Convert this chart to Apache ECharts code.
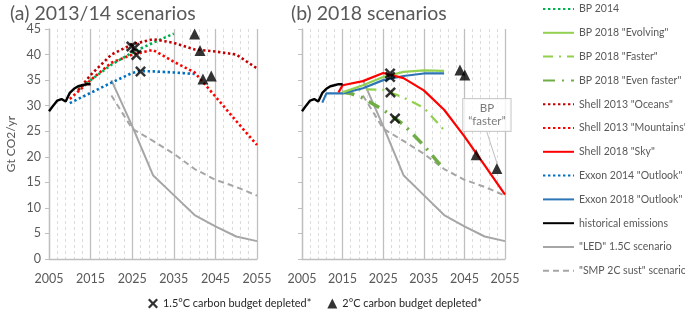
<!DOCTYPE html>
<html>
<head>
<meta charset="utf-8">
<script src="https://cdn.jsdelivr.net/npm/echarts@6/dist/echarts.min.js"></script>
<style>
  html, body { margin: 0; padding: 0; background: #fff; }
  #chart { width: 685px; height: 311px; }
</style>
</head>
<body>
<div id="chart"></div>
<script>
var baseYear = 2005;

// historical emissions (both panels)
var histYears = [2005, 2006, 2007, 2008, 2009, 2010, 2011, 2012, 2013, 2014, 2015];
var histVals = [28.9, 30.0, 31.0, 31.3, 30.8, 32.5, 33.3, 33.8, 34.0, 34.2, 34.2];

// LED 1.5C + SMP 2C (both panels)
var ledYears = [2020, 2025, 2030, 2035, 2040, 2045, 2050, 2055];
var ledVals = [35.0, 26.0, 16.4, 12.5, 8.6, 6.4, 4.4, 3.5];
var smpYears = [2020, 2025, 2030, 2035, 2040, 2045, 2050, 2055];
var smpVals = [32.0, 25.5, 23.1, 20.6, 17.6, 15.5, 14.1, 12.4];

// panel (a) 2013/14 scenarios
var bp14Years = [2012, 2015, 2020, 2025, 2030, 2035];
var bp14Vals = [33.2, 35.0, 38.0, 40.4, 42.3, 44.1];
var oceansYears = [2012, 2015, 2020, 2025, 2030, 2035, 2040, 2045, 2050, 2055];
var oceansVals = [33.0, 36.0, 40.0, 42.0, 43.0, 42.3, 41.0, 40.6, 40.0, 37.3];
var mountYears = [2010, 2015, 2020, 2025, 2030, 2035, 2040, 2045, 2050, 2055];
var mountVals = [31.3, 35.0, 38.4, 40.0, 40.9, 38.6, 36.5, 31.8, 27.0, 22.3];
var exx14Years = [2010, 2015, 2020, 2025, 2027, 2030, 2035, 2040];
var exx14Vals = [30.5, 32.5, 34.5, 36.4, 36.8, 36.7, 36.5, 36.2];
var budget15aYears = [2024.8, 2025.6, 2026.0, 2027.0];
var budget15aVals = [41.6, 41.3, 39.9, 36.7];
var budget2aYears = [2040.0, 2041.3, 2042.0, 2044.0];
var budget2aVals = [44.0, 40.8, 35.2, 35.8];

// panel (b) 2018 scenarios
var evolvYears = [2015, 2020, 2025, 2030, 2035, 2040];
var evolvVals = [32.6, 34.0, 35.6, 36.6, 36.9, 36.8];
var fasterYears = [2015, 2020, 2025, 2030, 2035, 2040];
var fasterVals = [32.6, 33.2, 33.1, 31.6, 29.6, 25.2];
var evenYears = [2015, 2017, 2020, 2025, 2030, 2035, 2040];
var evenVals = [32.6, 32.4, 31.5, 29.2, 26.3, 22.2, 17.5];
var skyYears = [2014, 2015, 2020, 2025, 2030, 2035, 2040, 2045, 2050, 2055];
var skyVals = [32.6, 34.0, 34.8, 36.4, 35.4, 33.0, 29.2, 24.0, 18.3, 12.6];
var exx18Years = [2010, 2011, 2015, 2020, 2025, 2030, 2035, 2040];
var exx18Vals = [30.6, 32.4, 32.4, 33.4, 35.0, 35.8, 36.3, 36.3];
var budget15bYears = [2026.7, 2026.7, 2026.8, 2027.9];
var budget15bVals = [36.3, 35.6, 32.6, 27.5];
var budget2bYears = [2043.9, 2045.1, 2047.9, 2053.0];
var budget2bVals = [37.0, 36.0, 20.4, 17.7];
var calloutIndex = 3;

var yTicks = { min: 0, max: 45, interval: 5 };
var xTicks = { min: 0, max: 50, interval: 10 };

function pts(years, vals) {
  return years.map(function (y, i) { return [y - baseYear, vals[i]]; });
}

var txt = '#595959';
var gridCol = '#bfbfbf';
var font = 'Lato';
var xSym = 'path://M1.6,0L5,3.4L8.4,0L10,1.6L6.6,5L10,8.4L8.4,10L5,6.6L1.6,10L0,8.4L3.4,5L0,1.6Z';

var N = {
  bp14: 'BP 2014',
  evolv: 'BP 2018 "Evolving"',
  faster: 'BP 2018 "Faster"',
  even: 'BP 2018 "Even faster"',
  oceans: 'Shell 2013 "Oceans"',
  mount: 'Shell 2013 "Mountains"',
  sky: 'Shell 2018 "Sky"',
  exx14: 'Exxon 2014 "Outlook"',
  exx18: 'Exxon 2018 "Outlook"',
  hist: 'historical emissions',
  led: '"LED" 1.5C scenario',
  smp: '"SMP 2C sust" scenario',
  b15: '1.5°C carbon budget depleted*',
  b2: '2°C carbon budget depleted*'
};

function line(name, idx, data, color, width, type, z) {
  return {
    name: name, type: 'line', xAxisIndex: idx, yAxisIndex: idx,
    data: data, symbol: 'none', silent: true, z: z || 2,
    lineStyle: { color: color, width: width, type: type || 'solid', cap: 'butt' },
    itemStyle: { color: color }
  };
}
var dot = [2.4, 2.6];

function xAxisOf(idx) {
  return {
    type: 'value', gridIndex: idx, min: xTicks.min, max: xTicks.max, interval: xTicks.interval,
    axisLine: { show: true, lineStyle: { color: gridCol, width: 1.3 } },
    axisTick: { show: false },
    axisLabel: { color: txt, fontSize: 12.5, fontFamily: font, margin: 13,
      formatter: function (v) { return v + baseYear; } },
    splitLine: { show: true, lineStyle: { color: gridCol, width: 1.3 } },
    minorTick: { show: false, splitNumber: 5 },
    minorSplitLine: { show: true, lineStyle: { color: '#dcdcdc', width: 1, type: [3, 3] } }
  };
}
function yAxisOf(idx, labels) {
  return {
    type: 'value', gridIndex: idx, min: yTicks.min, max: yTicks.max, interval: yTicks.interval,
    name: labels ? 'Gt CO2/yr' : '', nameLocation: 'middle', nameGap: 32,
    nameTextStyle: { color: txt, fontSize: 12, fontFamily: font },
    axisLine: { show: true, lineStyle: { color: gridCol, width: 1.3 } },
    axisTick: { show: true, length: 4, lineStyle: { color: gridCol } },
    axisLabel: { show: labels, color: txt, fontSize: 12.5, fontFamily: font, margin: 8 },
    splitLine: { show: false }
  };
}

var chart = echarts.init(document.getElementById('chart'));

var series = [
  // panel (a)
  line(N.led, 0, pts(ledYears, ledVals), '#a6a6a6', 2),
  line(N.smp, 0, pts(smpYears, smpVals), '#a6a6a6', 2, [6, 4]),
  line(N.exx14, 0, pts(exx14Years, exx14Vals), '#0070c0', 2.6, dot),
  line(N.mount, 0, pts(mountYears, mountVals), '#ff0000', 2.6, dot),
  line(N.bp14, 0, pts(bp14Years, bp14Vals), '#00b050', 2.6, dot),
  line(N.oceans, 0, pts(oceansYears, oceansVals), '#c00000', 2.6, dot),
  line(N.hist, 0, pts(histYears, histVals), '#000000', 2.4, 'solid', 3),
  // panel (b)
  line(N.led, 1, pts(ledYears, ledVals), '#a6a6a6', 2),
  line(N.smp, 1, pts(smpYears, smpVals), '#a6a6a6', 2, [6, 4]),
  line(N.even, 1, pts(evenYears, evenVals), '#70ad47', 3.5, [12, 7, 2, 7]),
  line(N.faster, 1, pts(fasterYears, fasterVals), '#92d050', 2.2, [10, 6, 2, 6]),
  line(N.exx18, 1, pts(exx18Years, exx18Vals), '#2e75b6', 2.2),
  line(N.evolv, 1, pts(evolvYears, evolvVals), '#92d050', 2.2),
  line(N.sky, 1, pts(skyYears, skyVals), '#ff0000', 2.2),
  line(N.hist, 1, pts(histYears, histVals), '#000000', 2.4, 'solid', 3),
  // budget markers
  { name: N.b15, type: 'scatter', xAxisIndex: 0, yAxisIndex: 0, symbol: xSym, symbolSize: 11,
    itemStyle: { color: '#000' }, z: 5, silent: true, data: pts(budget15aYears, budget15aVals) },
  { name: N.b2, type: 'scatter', xAxisIndex: 0, yAxisIndex: 0, symbol: 'triangle', symbolSize: 11,
    itemStyle: { color: '#000' }, z: 5, silent: true, data: pts(budget2aYears, budget2aVals) },
  { name: N.b15, type: 'scatter', xAxisIndex: 1, yAxisIndex: 1, symbol: xSym, symbolSize: 11,
    itemStyle: { color: '#000' }, z: 5, silent: true, data: pts(budget15bYears, budget15bVals) },
  { name: N.b2, type: 'scatter', xAxisIndex: 1, yAxisIndex: 1, symbol: 'triangle', symbolSize: 11,
    itemStyle: { color: '#000' }, z: 5, silent: true,
    data: pts(budget2bYears, budget2bVals).map(function (p, i) {
      if (i !== calloutIndex) return p;
      return { value: p, label: { show: true } };
    }),
    label: {
      show: false, position: 'top', formatter: 'BP\n\u201cfaster\u201d',
      color: txt, fontSize: 11.5, fontFamily: font, lineHeight: 13, align: 'center',
      backgroundColor: '#fff', borderColor: gridCol, borderWidth: 1, padding: [3, 5]
    },
    labelLine: { show: true, lineStyle: { color: gridCol, width: 1 } },
    labelLayout: function (p) {
      if (p.dataIndex === calloutIndex) return { dx: -10, dy: -27 };
    }
  }
];

chart.setOption({
  animation: false,
  backgroundColor: '#fff',
  textStyle: { fontFamily: font },
  title: [
    { text: '(a) 2013/14 scenarios', left: 5, top: -1,
      textStyle: { color: txt, fontSize: 19.5, fontWeight: 'normal', fontFamily: font } },
    { text: '(b) 2018 scenarios', left: 286, top: -1,
      textStyle: { color: txt, fontSize: 19.5, fontWeight: 'normal', fontFamily: font } }
  ],
  grid: [
    { left: 49, top: 29, width: 208, height: 230 },
    { left: 302, top: 29, width: 203, height: 230 }
  ],
  xAxis: [xAxisOf(0), xAxisOf(1)],
  yAxis: [yAxisOf(0, true), yAxisOf(1, false)],
  legend: [
    {
      orient: 'vertical', left: 537, top: -3, itemWidth: 31, itemHeight: 14, itemGap: 9.8,
      data: [N.bp14, N.evolv, N.faster, N.even, N.oceans, N.mount, N.sky, N.exx14, N.exx18, N.hist, N.led, N.smp],
      textStyle: { color: txt, fontSize: 10.5, fontFamily: font, lineHeight: 14 },
      itemStyle: { opacity: 0 },
      selectedMode: false
    },
    {
      orient: 'horizontal', left: 143, top: 293, itemWidth: 10, itemHeight: 10, itemGap: 16,
      data: [N.b15, N.b2],
      textStyle: { color: '#262626', fontSize: 10.9, fontFamily: font },
      selectedMode: false
    }
  ],
  series: series
});
</script>
</body>
</html>
